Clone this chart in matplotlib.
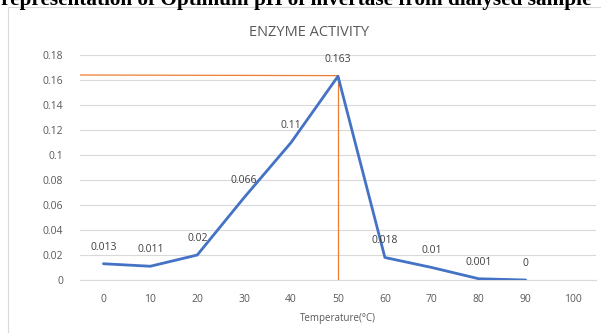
import matplotlib.pyplot as plt
from matplotlib.patches import Rectangle

# data
temps = [0, 10, 20, 30, 40, 50, 60, 70, 80, 90]
activity = [0.013, 0.011, 0.02, 0.066, 0.11, 0.163, 0.018, 0.01, 0.001, 0]
xticks = [0, 10, 20, 30, 40, 50, 60, 70, 80, 90, 100]
yticks = [0, 0.02, 0.04, 0.06, 0.08, 0.1, 0.12, 0.14, 0.16, 0.18]
ytick_labels = ["0", "0.02", "0.04", "0.06", "0.08", "0.1", "0.12", "0.14", "0.16", "0.18"]
opt_temp = 50
opt_level = 0.164

GRAY = "#595959"
BLUE = "#4472C4"
ORANGE = "#ED7D31"

plt.rcParams['font.family'] = ['Open Sans', 'DejaVu Sans']

fig = plt.figure(figsize=(6.01, 3.33), dpi=100)

# chart frame and cut-off caption above it
fig.patches.append(Rectangle((7.5 / 601, -0.05), 1.0, 1 - 7 / 333 + 0.05,
                             transform=fig.transFigure, fill=False,
                             edgecolor="#D9D9D9", linewidth=0.8))
fig.text(0.493, 1 - 5.5 / 333, "representation of Optimum pH of invertase from dialysed sample",
         ha="center", va="baseline", fontsize=15.3, fontweight="bold",
         family=["Liberation Serif", "DejaVu Serif"], color="black")

ax = fig.add_axes([80 / 601, 1 - 280 / 333, 516 / 601, 225 / 333])

ax.plot(temps, activity, color=BLUE, linewidth=2.0, solid_capstyle="round", zorder=3)
ax.plot([-5, opt_temp], [opt_level, 0.1635], color=ORANGE, linewidth=0.9, zorder=2)
ax.plot([opt_temp, opt_temp], [0, 0.1635], color=ORANGE, linewidth=0.9, zorder=2)

for t, a in zip(temps, activity):
    ax.annotate(f"{a:g}", (t, a), xytext=(0, 8), textcoords="offset points",
                ha="center", va="bottom", fontsize=7.5, color="#404040")

ax.set_xlim(-5, 105)
ax.set_ylim(0, 0.18)
ax.set_xticks(xticks)
ax.set_yticks(yticks)
ax.set_yticklabels(ytick_labels)
ax.tick_params(length=0, labelsize=7.5, colors=GRAY, pad=10)
ax.tick_params(axis="y", pad=12)
ax.grid(axis="y", color="#D9D9D9", linewidth=0.8)
ax.set_axisbelow(True)
for s in ["top", "right", "left"]:
    ax.spines[s].set_visible(False)
ax.spines["bottom"].set_color("#D9D9D9")

ax.set_xlabel("Temperature(°C)", fontsize=7, color=GRAY, labelpad=6)
fig.text(0.515, 1 - 32 / 333, "ENZYME ACTIVITY", ha="center", va="center",
         fontsize=10.5, color=GRAY)

fig.savefig("out.png", dpi=100)
